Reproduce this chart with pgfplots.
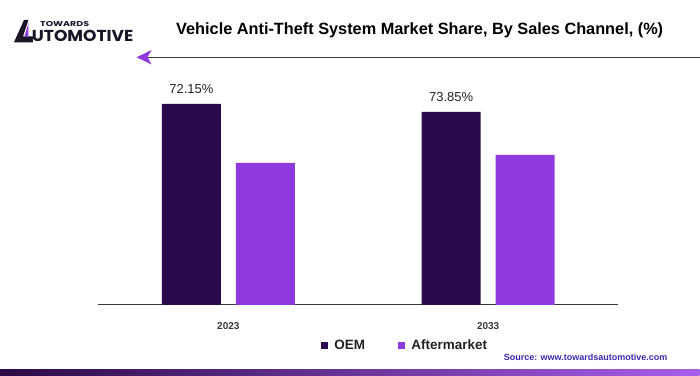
\documentclass[border=0pt]{standalone}
\usepackage{pgfplots}
\pgfplotsset{compat=1.18}
\usepackage{graphicx}
\usepackage{fontspec}
\setmainfont{Liberation Sans}
\newfontfamily\logofont{Poppins}
\definecolor{oem}{HTML}{2A0A4A}
\definecolor{after}{HTML}{8E3ADF}
\definecolor{src}{HTML}{3B2AB0}
\definecolor{gL}{HTML}{2A0A45}
\definecolor{gR}{HTML}{A85EEA}
\definecolor{txt}{HTML}{222222}
\definecolor{logo}{HTML}{1A1426}
\begin{document}
\begin{tikzpicture}[x=1pt,y=1pt]
\path (0,0) rectangle (700,376);
% logo
\fill[logo] (14,376-42.3) -- (24,376-20) -- (28.5,376-20) -- (23,376-36.5) -- (33,376-36.5) -- (33,376-42.3) -- cycle;
\fill[after] (28.5,376-23) -- (28.5,376-36.5) -- (24.5,376-36.5) -- cycle;
\node[anchor=south west,inner sep=0pt,text=logo] at (31.7,376-42.3) {\resizebox{101.6pt}{11.3pt}{\logofont\bfseries UTOMOTIVE}};
\node[anchor=south west,inner sep=0pt,text=logo] at (40,376-26.7) {\resizebox{49pt}{5pt}{\logofont\bfseries TOWARDS}};
% title
\node[anchor=base,inner sep=0pt,text=black] at (420,376-35) {\fontsize{16.3}{19}\selectfont\bfseries Vehicle Anti-Theft System Market Share, By Sales Channel, (\%)};
\draw[color=txt!90,line width=1pt] (146,376-57.3) -- (700,376-57.3);
\fill[after] (136.7,376-57.3) -- (151.7,376-50) -- (147.5,376-57.3) -- (151.7,376-64.5) -- cycle;
% source
\node[anchor=base east,inner sep=0pt,text=src] at (668,376-360.5) {\fontsize{9}{11}\selectfont\bfseries Source: www.towardsautomotive.com};
% bottom bar
\shade[left color=gL,right color=gR] (0,0) rectangle (700,376-369.3);
\begin{axis}[
  at={(98.5pt,71pt)}, anchor=south west,
  scale only axis, width=520pt, height=220pt,
  xmin=0, xmax=520, ymin=0, ymax=220,
  ybar, bar width=59pt,
  axis x line*=bottom, hide y axis,
  x axis line style={color=txt!90, line width=0.9pt},
  xtick={130,390}, xticklabels={\textbf{2023},\textbf{2033}},
  major tick length=0pt,
  xticklabel style={anchor=base, yshift=-25pt, font=\fontsize{10}{12}\selectfont\bfseries, text=txt!90},
  clip=false,
  legend columns=2,
  legend style={draw=none, fill=none, at={(axis cs:189.5,-40.7)}, anchor=west,
    inner sep=0pt, column sep=0pt, font=\fontsize{13.5}{16}\selectfont\bfseries,
    text=txt, nodes={inner sep=0pt}},
  legend image code/.code={\path[draw=none,fill=none] (-32.7pt,0) rectangle (13.7pt,0.1pt); \fill[#1,draw=none] (0pt,-3.5pt) rectangle (7pt,3.5pt);},
]
\addplot[fill=oem, draw=none, bar shift=-37pt,
  nodes near coords, point meta=explicit symbolic,
  nodes near coords style={anchor=base, yshift=10.5pt, inner sep=0pt, font=\fontsize{13}{15}\selectfont, text=txt}]
  coordinates {(130,201) [72.15\%] (390,193) [73.85\%]};
\addplot[fill=after, draw=none, bar shift=37pt]
  coordinates {(130,142) (390,150)};
\legend{OEM, Aftermarket}
\end{axis}
\end{tikzpicture}
\end{document}
